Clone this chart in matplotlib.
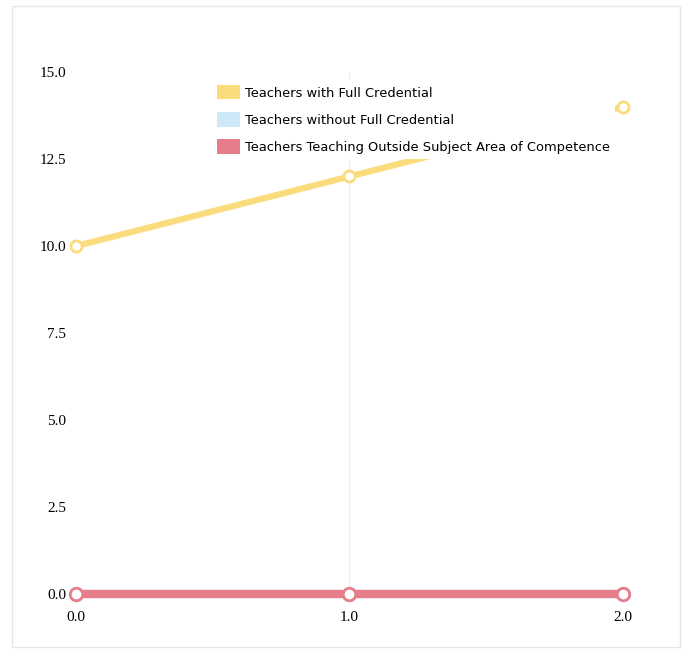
import matplotlib
matplotlib.use("Agg")
import matplotlib.pyplot as plt
from matplotlib.patches import Patch, Rectangle

# data
x_vals = [0.0, 1.0, 2.0]
full_credential = [10.0, 12.0, 14.0]
without_full = [0.0, 0.0, 0.0]
outside_subject = [0.0, 0.0, 0.0]
y_ticks = [0.0, 2.5, 5.0, 7.5, 10.0, 12.5, 15.0]
x_ticks = [0.0, 1.0, 2.0]

labels = ["Teachers with Full Credential",
          "Teachers without Full Credential",
          "Teachers Teaching Outside Subject Area of Competence"]
colors = ["#fbdc7c", "#cde8f7", "#e67d8b"]

fig = plt.figure(figsize=(6.85, 6.51), dpi=100)
ax = fig.add_axes([0.111, 0.0876, 0.798, 0.8016])

# faint border round the whole chart, like the scan
fig.patches.append(Rectangle((0.018, 0.006), 0.975, 0.985, transform=fig.transFigure,
                             fill=False, edgecolor="#e6e6e6", linewidth=1))

ax.axvline(1.0, color="#f0f0f0", linewidth=1, zorder=0)

ax.plot(x_vals, full_credential, color=colors[0], linewidth=4.5, marker="o",
        markersize=8, markerfacecolor="white", markeredgecolor=colors[0],
        markeredgewidth=2, zorder=3, clip_on=False)
ax.plot(x_vals, without_full, color=colors[1], linewidth=6, marker="o",
        markersize=9, markerfacecolor="white", markeredgecolor=colors[1],
        markeredgewidth=2, zorder=3, clip_on=False)
ax.plot(x_vals, outside_subject, color=colors[2], linewidth=6, marker="o",
        markersize=9, markerfacecolor="white", markeredgecolor=colors[2],
        markeredgewidth=2, zorder=4, clip_on=False)

ax.set_xlim(0, 2)
ax.set_ylim(0, 15)
ax.set_xticks(x_ticks)
ax.set_yticks(y_ticks)
ax.set_xticklabels([f"{v:.1f}" for v in x_ticks], family="Liberation Serif", fontsize=11)
ax.set_yticklabels([f"{v:.1f}" for v in y_ticks], family="Liberation Serif", fontsize=11)
ax.tick_params(axis="x", length=0, pad=12)
ax.tick_params(axis="y", length=0, pad=7)
for s in ax.spines.values():
    s.set_visible(False)

handles = [Patch(facecolor=c, edgecolor="none") for c in colors]
leg = ax.legend(handles, labels, loc="upper left", bbox_to_anchor=(0.249, 0.985),
                frameon=True, fontsize=9.4, handlelength=1.7, handleheight=1.3,
                handletextpad=0.4, labelspacing=0.97, borderpad=0.4, borderaxespad=0)
leg.get_frame().set_edgecolor("none")
leg.get_frame().set_facecolor("white")
leg.get_frame().set_alpha(1)
leg.set_zorder(5)

plt.savefig("out.png", dpi=100)
